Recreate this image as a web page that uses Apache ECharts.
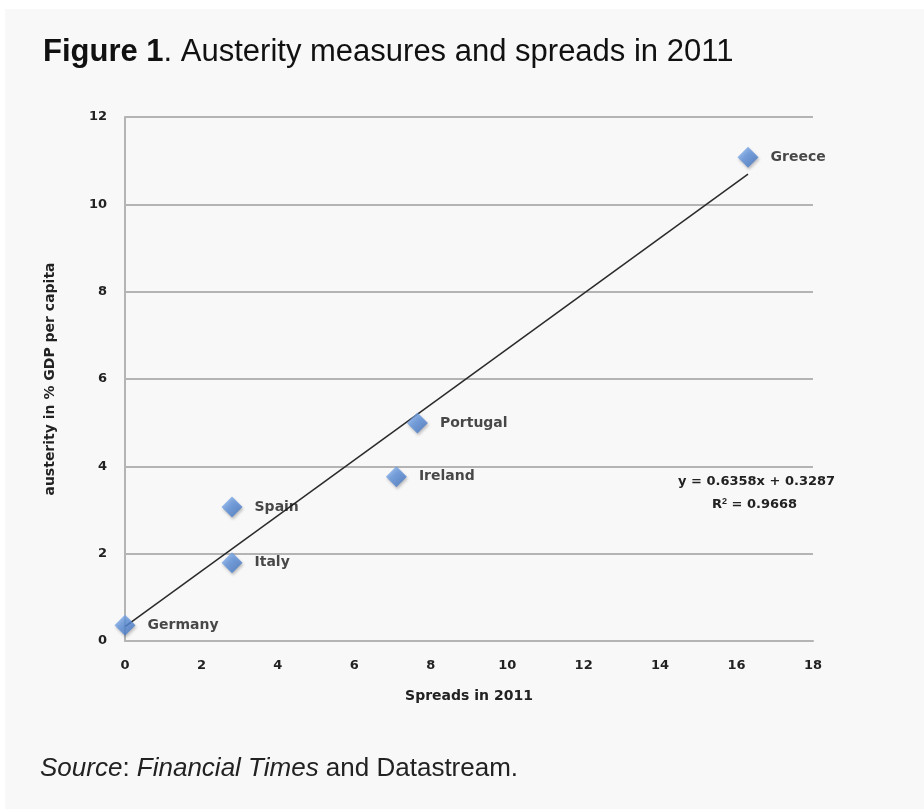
<!DOCTYPE html>
<html>
<head>
<meta charset="utf-8">
<script src="https://cdn.jsdelivr.net/npm/echarts@6/dist/echarts.min.js"></script>
<style>
  html, body { margin: 0; padding: 0; background: #ffffff; }
  #chart { width: 924px; height: 809px; }
</style>
</head>
<body>
<div id="chart"></div>
<script>
// countries and values
var countries = ['Germany', 'Italy', 'Spain', 'Ireland', 'Portugal', 'Greece'];
var spreads = [0, 2.8, 2.8, 7.1, 7.65, 16.3];
var austerity = [0.36, 1.79, 3.07, 3.76, 4.99, 11.08];

// trend line end points
var trendX = [0, 16.3];
var trendY = [0.33, 10.69];

var xTicks = [0, 2, 4, 6, 8, 10, 12, 14, 16, 18];
var yTicks = [0, 2, 4, 6, 8, 10, 12];

var points = countries.map(function (c, i) {
  return { name: c, value: [spreads[i], austerity[i]] };
});
var trend = trendX.map(function (x, i) { return [x, trendY[i]]; });

var chart = echarts.init(document.getElementById('chart'));
var labelFont = '"DejaVu Sans", "Open Sans", sans-serif';

chart.setOption({
  backgroundColor: '#ffffff',
  animation: false,
  graphic: [
    {
      type: 'rect', z: -10, silent: true,
      shape: { x: 5, y: 9, width: 919, height: 800 },
      style: { fill: '#f8f8f8' }
    },
    {
      type: 'text', left: 40, top: 756,
      style: {
        text: '{i|Source}: {i|Financial Times} and Datastream.',
        rich: {
          i: { fontStyle: 'italic', fontSize: 26, fontFamily: '"Liberation Sans", Arial', fill: '#222' }
        },
        fontSize: 26, fontFamily: '"Liberation Sans", Arial', fill: '#222'
      }
    },
    {
      type: 'text', left: 678, top: 475,
      style: {
        text: 'y = 0.6358x + 0.3287',
        fontSize: 13, fontWeight: 'bold', fontFamily: labelFont, fill: '#222'
      }
    },
    {
      type: 'text', left: 712, top: 497,
      style: {
        text: 'R{s|2} = 0.9668',
        rich: { s: { fontSize: 9, fontWeight: 'bold', verticalAlign: 'top', padding: [0, 0, 6, 0] } },
        fontSize: 13, fontWeight: 'bold', fontFamily: labelFont, fill: '#222'
      }
    }
  ],
  title: {
    text: '{b|Figure 1}. Austerity measures and spreads in 2011',
    left: 38, top: 32,
    textStyle: {
      fontSize: 31, fontWeight: 'normal', color: '#111',
      fontFamily: '"Liberation Sans", Arial',
      rich: {
        b: { fontSize: 31, fontWeight: 'bold', color: '#111', fontFamily: '"Liberation Sans", Arial' }
      }
    }
  },
  grid: { left: 125, right: 111, top: 117, bottom: 168 },
  xAxis: {
    type: 'value', min: 0, max: 18, interval: 2,
    name: 'Spreads in 2011', nameLocation: 'middle', nameGap: 48,
    nameTextStyle: { fontSize: 14, fontWeight: 'bold', color: '#222', fontFamily: labelFont },
    axisLine: { show: true, lineStyle: { color: '#b4b4b4', width: 2 } },
    axisTick: { show: false },
    splitLine: { show: false },
    axisLabel: {
      fontSize: 13, fontWeight: 'bold', color: '#222', fontFamily: labelFont, margin: 18,
      formatter: function (v) { return xTicks.indexOf(v) >= 0 ? String(v) : ''; }
    }
  },
  yAxis: {
    type: 'value', min: 0, max: 12, interval: 2,
    name: 'austerity in % GDP per capita', nameLocation: 'middle', nameGap: 68,
    nameTextStyle: { fontSize: 14, fontWeight: 'bold', color: '#222', fontFamily: labelFont },
    axisLine: { show: true, lineStyle: { color: '#b4b4b4', width: 2 } },
    axisTick: { show: false },
    splitLine: { show: true, lineStyle: { color: '#b4b4b4', width: 2 } },
    axisLabel: {
      fontSize: 13, fontWeight: 'bold', color: '#222', fontFamily: labelFont, margin: 18,
      formatter: function (v) { return yTicks.indexOf(v) >= 0 ? String(v) : ''; }
    }
  },
  series: [
    {
      name: 'trend', type: 'line', data: trend,
      symbol: 'none', z: 3,
      lineStyle: { color: '#2a2a2a', width: 1.5 }
    },
    {
      name: 'countries', type: 'scatter', data: points,
      symbol: 'diamond', symbolSize: [21, 21], z: 4,
      itemStyle: {
        color: new echarts.graphic.LinearGradient(0, 0, 1, 1, [
          { offset: 0, color: '#8fb8ee' },
          { offset: 0.5, color: '#5b8fdb' },
          { offset: 1, color: '#3a6cb8' }
        ]),
        shadowColor: 'rgba(0,0,0,0.3)', shadowBlur: 3, shadowOffsetX: 1, shadowOffsetY: 2
      },
      label: {
        show: true, position: 'right', distance: 12,
        formatter: '{b}',
        fontSize: 14, fontWeight: 'bold', color: '#1a1a1a', fontFamily: labelFont
      }
    }
  ]
});
</script>
</body>
</html>
